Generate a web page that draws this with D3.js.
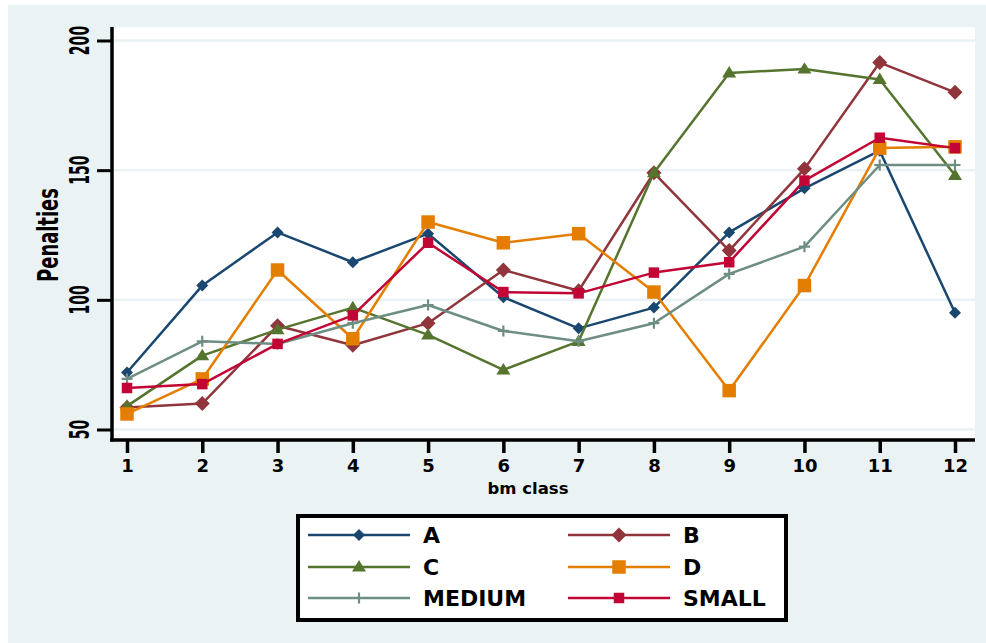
<!DOCTYPE html>
<html>
<head>
<meta charset="utf-8">
<script src="https://cdn.jsdelivr.net/npm/d3@7"></script>
<style>
  html, body { margin: 0; padding: 0; background: #ffffff; }
  svg { display: block; }
  text { font-family: "DejaVu Sans", sans-serif; font-weight: bold; fill: #000; }
</style>
</head>
<body>
<svg id="chart" width="986" height="643"></svg>
<script>
// Penalties by book-to-market class, one line per group
const bmClasses = [1, 2, 3, 4, 5, 6, 7, 8, 9, 10, 11, 12];
const yTicks = [50, 100, 150, 200];

const seriesA      = [72, 105.5, 126, 114.5, 125.5, 101, 89, 97, 126, 143, 157.5, 95];
const seriesB      = [58.5, 60, 90, 82.5, 91, 111.5, 103.5, 149, 119, 150.5, 191.5, 180];
const seriesC      = [59, 78.5, 88.5, 97, 86.5, 73, 84, 149, 187.5, 189, 185, 148];
const seriesD      = [56, 69.5, 111.5, 85, 130, 122, 125.5, 103, 65, 105.5, 158.5, 159];
const seriesMedium = [69.5, 84, 83, 91, 98, 88, 84, 91, 110, 120.5, 152, 152];
const seriesSmall  = [66, 67.5, 83, 94, 122, 103, 102.5, 110.5, 114.5, 146, 162.5, 158.5];

const seriesNames = ["A", "B", "C", "D", "MEDIUM", "SMALL"];
const seriesValues = [seriesA, seriesB, seriesC, seriesD, seriesMedium, seriesSmall];

// Stata s2color palette and marker symbols
const colors = ["#1a476f", "#90353b", "#55752f", "#e37e00", "#6e8e84", "#c10534"];
const markerKinds = ["diamond", "diamond", "triangle", "square", "plus", "square"];
const markerSizes = [12, 15, 14, 13.5, 11, 10.5];

const svg = d3.select("#chart");

// outer graph region
svg.append("rect").attr("x", 8).attr("y", 5).attr("width", 978).attr("height", 638).attr("fill", "#eaf2f3");

// plot region
const plot = { left: 113, right: 975, top: 27, bottom: 438 };
svg.append("rect")
  .attr("x", plot.left).attr("y", plot.top)
  .attr("width", plot.right - plot.left).attr("height", plot.bottom - plot.top)
  .attr("fill", "#ffffff");

const x = d3.scaleLinear().domain([1, 12]).range([127, 955]);
const y = d3.scaleLinear().domain([50, 200]).range([429.5, 40.5]);

// horizontal grid lines
svg.append("g").selectAll("line").data(yTicks).join("line")
  .attr("x1", plot.left).attr("x2", plot.right)
  .attr("y1", d => y(d)).attr("y2", d => y(d))
  .attr("stroke", "#eaf2f3").attr("stroke-width", 2.5);

// y axis
const yAxis = svg.append("g").attr("transform", "translate(112,0)")
  .call(d3.axisLeft(y).tickValues(yTicks).tickSize(15).tickFormat(""));
yAxis.select(".domain").remove();
yAxis.selectAll(".tick line").attr("stroke", "#000").attr("stroke-width", 3);
svg.append("line").attr("x1", 112).attr("x2", 112).attr("y1", plot.top).attr("y2", 441.5)
  .attr("stroke", "#000").attr("stroke-width", 3.5);

svg.append("g").selectAll("text").data(yTicks).join("text")
  .attr("transform", d => `translate(89,${y(d)}) rotate(-90) scale(0.52,1)`)
  .attr("text-anchor", "middle")
  .style("font-size", "27px")
  .text(d => d);

svg.append("text")
  .attr("transform", "translate(58,235) rotate(-90) scale(0.64,1)")
  .attr("text-anchor", "middle")
  .style("font-size", "28px")
  .text("Penalties");

// x axis
const xAxis = svg.append("g").attr("transform", "translate(0,440)")
  .call(d3.axisBottom(x).tickValues(bmClasses).tickSize(13).tickFormat(d3.format("d")));
xAxis.select(".domain").remove();
xAxis.selectAll(".tick line").attr("stroke", "#000").attr("stroke-width", 3.5);
xAxis.selectAll(".tick text")
  .attr("y", 25).attr("dy", 0)
  .attr("fill", "#000")
  .style("font-family", "'DejaVu Sans', sans-serif")
  .style("font-weight", "bold")
  .style("font-size", "18px")
  .attr("dominant-baseline", "central");
svg.append("line").attr("x1", 110.25).attr("x2", plot.right).attr("y1", 440).attr("y2", 440)
  .attr("stroke", "#000").attr("stroke-width", 3.5);

svg.append("text")
  .attr("x", 528).attr("y", 488)
  .attr("text-anchor", "middle").attr("dominant-baseline", "central")
  .style("font-size", "16.5px")
  .text("bm class");

// marker drawing helper
function drawMarker(g, i, cx, cy) {
  const s = markerSizes[i], h = s / 2;
  const kind = markerKinds[i];
  if (kind === "plus") {
    g.append("path")
      .attr("d", `M${cx - h},${cy}H${cx + h}M${cx},${cy - h}V${cy + h}`)
      .attr("stroke", colors[i]).attr("stroke-width", 2.2).attr("fill", "none");
    return;
  }
  let d;
  if (kind === "diamond") {
    d = `M${cx},${cy - h}L${cx + h},${cy}L${cx},${cy + h}L${cx - h},${cy}Z`;
  } else if (kind === "triangle") {
    const th = s * 0.82;
    d = `M${cx},${cy - th * 0.6}L${cx + h},${cy + th * 0.4}L${cx - h},${cy + th * 0.4}Z`;
  } else {
    d = `M${cx - h},${cy - h}H${cx + h}V${cy + h}H${cx - h}Z`;
  }
  g.append("path").attr("d", d).attr("fill", colors[i]);
}

// series lines and markers
const line = d3.line().x((d, j) => x(bmClasses[j])).y(d => y(d));
seriesValues.forEach((vals, i) => {
  const g = svg.append("g");
  g.append("path").datum(vals)
    .attr("d", line)
    .attr("fill", "none")
    .attr("stroke", colors[i])
    .attr("stroke-width", 2.5)
    .attr("stroke-linejoin", "round");
  vals.forEach((v, j) => drawMarker(g, i, x(bmClasses[j]), y(v)));
});

// legend
const legend = svg.append("g");
legend.append("rect")
  .attr("x", 298).attr("y", 516).attr("width", 488).attr("height", 104)
  .attr("fill", "#ffffff").attr("stroke", "#000").attr("stroke-width", 4);

const legendRows = [535, 567, 598];
seriesNames.forEach((name, i) => {
  const col = i % 2, row = Math.floor(i / 2);
  const x0 = col === 0 ? 308 : 568;
  const cy = legendRows[row];
  legend.append("line")
    .attr("x1", x0).attr("x2", x0 + 102).attr("y1", cy).attr("y2", cy)
    .attr("stroke", colors[i]).attr("stroke-width", 2.5);
  drawMarker(legend, i, x0 + 51, cy);
  legend.append("text")
    .attr("x", col === 0 ? 423 : 683).attr("y", cy)
    .attr("dominant-baseline", "central")
    .style("font-size", "22px")
    .text(name);
});
</script>
</body>
</html>
